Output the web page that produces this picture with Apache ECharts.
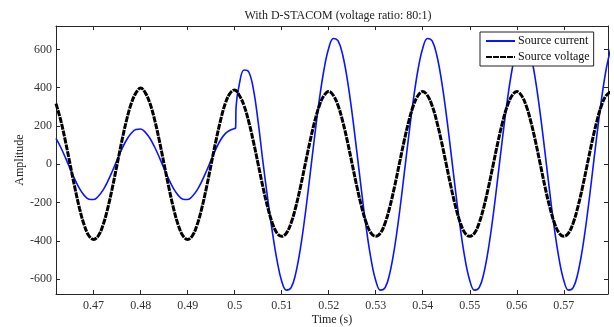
<!DOCTYPE html>
<html>
<head>
<meta charset="utf-8">
<script src="https://cdn.jsdelivr.net/npm/echarts@6/dist/echarts.min.js"></script>
<style>
html,body{margin:0;padding:0;background:#fff;}
#chart{width:614px;height:327px;}
</style>
</head>
<body>
<div id="chart"></div>
<script>
// ---- Data ----
const chartTitle = 'With D-STACOM (voltage ratio: 80:1)';
const xTicks = [0.47, 0.48, 0.49, 0.5, 0.51, 0.52, 0.53, 0.54, 0.55, 0.56, 0.57];
const yTicks = [-600, -400, -200, 0, 200, 400, 600];
const seriesNames = ['Source current', 'Source voltage'];

// sample times: 0.462 s to 0.580 s every 1 ms
const sampleStart = 0.462;
const sampleStep = 0.001;

// Source voltage (one value per sample time)
const voltageValues = [
  317, 230, 121, 0, -121, -230, -317, -373, -392, -373,
  -317, -230, -121, 0, 121, 230, 317, 373, 398, 373,
  317, 230, 121, 0, -121, -230, -317, -373, -392, -373,
  -317, -230, -121, 0, 121, 230, 317, 370, 388, 359,
  306, 222, 117, 0, -117, -222, -306, -359, -376, -359,
  -306, -222, -117, 0, 117, 222, 306, 359, 380, 359,
  306, 222, 117, 0, -117, -222, -306, -359, -376, -359,
  -306, -222, -117, 0, 117, 222, 306, 359, 380, 359,
  306, 222, 117, 0, -117, -222, -306, -359, -376, -359,
  -306, -222, -117, 0, 117, 222, 306, 359, 380, 359,
  306, 222, 117, 0, -117, -222, -306, -359, -376, -359,
  -306, -222, -117, 0, 117, 222, 306, 359, 378
];

// Source current (one value per sample time)
const currentValues = [
  135, 89, 35, -23, -79, -127, -162, -182, -184, -167,
  -135, -89, -35, 23, 79, 127, 162, 182, 184, 167,
  135, 89, 35, -23, -79, -127, -162, -182, -184, -167,
  -135, -89, -35, 23, 79, 127, 160, 178, 187, 420,
  492, 482, 390, 220, 15, -175, -350, -500, -610, -657,
  -644, -568, -436, -262, -62, 144, 336, 495, 606, 657,
  644, 568, 436, 262, 62, -144, -336, -495, -606, -657,
  -644, -568, -436, -262, -62, 144, 336, 495, 606, 657,
  644, 568, 436, 262, 62, -144, -336, -495, -606, -657,
  -644, -568, -436, -262, -62, 144, 336, 495, 606, 657,
  644, 568, 436, 262, 62, -144, -336, -495, -606, -657,
  -644, -568, -436, -262, -62, 144, 336, 495, 606
];

// extra current readings at the switching instant (time, value)
const currentStepTimes = [0.5002, 0.5003];
const currentStepValues = [190, 300];

// ---- Build series data ----
const sampleTimes = voltageValues.map((_, i) => +(sampleStart + i * sampleStep).toFixed(4));
const voltageData = sampleTimes.map((t, i) => [t, voltageValues[i]]);
const currentData = sampleTimes.map((t, i) => [t, currentValues[i]])
  .concat(currentStepTimes.map((t, i) => [t, currentStepValues[i]]))
  .sort((a, b) => a[0] - b[0]);

const FONT = "'Liberation Serif', 'Times New Roman', serif";
const AXIS_COLOR = '#262626';

const chart = echarts.init(document.getElementById('chart'), null, {renderer: 'canvas'});

const baseX = {
  type: 'value', min: 0.462, max: 0.5794,
  splitLine: {show: false},
  axisLine: {show: true, onZero: false, lineStyle: {color: AXIS_COLOR, width: 1}}
};
const baseY = {
  type: 'value', min: -677, max: 722,
  splitLine: {show: false},
  axisLine: {show: true, onZero: false, lineStyle: {color: AXIS_COLOR, width: 1}}
};

chart.setOption({
  animation: false,
  backgroundColor: '#fff',
  title: {
    text: chartTitle, left: 333, top: 5, textAlign: 'center',
    textStyle: {fontFamily: FONT, fontSize: 12, fontWeight: 'normal', color: '#222'}
  },
  grid: {left: 56, top: 26, width: 552, height: 268, containLabel: false, outerBoundsMode: 'none'},
  legend: {
    data: seriesNames,
    orient: 'vertical', left: 480, top: 32,
    backgroundColor: '#fff', borderColor: '#222', borderWidth: 1,
    padding: [3, 4, 3, 5], itemGap: 4, itemWidth: 29, itemHeight: 12,
    itemStyle: {opacity: 0},
    textStyle: {fontFamily: FONT, fontSize: 12, color: '#111', padding: [0, 0, 0, -2]}
  },
  xAxis: [
    Object.assign({}, baseX, {
      position: 'bottom',
      name: 'Time (s)', nameLocation: 'middle', nameGap: 20, nameMoveOverlap: false,
      nameTextStyle: {fontFamily: FONT, fontSize: 12, color: '#222'},
      axisTick: {show: true, inside: true, length: 4, customValues: xTicks, lineStyle: {color: AXIS_COLOR}},
      axisLabel: {show: true, customValues: xTicks, margin: 6, fontFamily: FONT, fontSize: 12, color: '#333',
        formatter: v => String(parseFloat((+v).toFixed(2)))}
    }),
    Object.assign({}, baseX, {
      position: 'top',
      axisTick: {show: true, inside: true, length: 4, customValues: xTicks, lineStyle: {color: AXIS_COLOR}},
      axisLabel: {show: false}
    })
  ],
  yAxis: [
    Object.assign({}, baseY, {
      position: 'left',
      name: 'Amplitude', nameLocation: 'middle', nameGap: 30, nameRotate: 90, nameMoveOverlap: false,
      nameTextStyle: {fontFamily: FONT, fontSize: 12, color: '#222'},
      axisTick: {show: true, inside: true, length: 4, customValues: yTicks, lineStyle: {color: AXIS_COLOR}},
      axisLabel: {show: true, customValues: yTicks, margin: 4, fontFamily: FONT, fontSize: 12, color: '#333'}
    }),
    Object.assign({}, baseY, {
      position: 'right',
      axisTick: {show: true, inside: true, length: 4, customValues: yTicks, lineStyle: {color: AXIS_COLOR}},
      axisLabel: {show: false}
    })
  ],
  series: [
    {
      name: seriesNames[0], type: 'line', data: currentData,
      xAxisIndex: 0, yAxisIndex: 0,
      symbol: 'none', smooth: 0.4, clip: true,
      lineStyle: {color: '#0a14ff', width: 1.6},
      itemStyle: {color: '#0a14ff'}
    },
    {
      name: seriesNames[1], type: 'line', data: voltageData,
      xAxisIndex: 0, yAxisIndex: 0,
      symbol: 'none', smooth: 0.4, clip: true,
      lineStyle: {color: '#000', width: 3, type: [6, 1]},
      itemStyle: {color: '#000'}
    }
  ]
});
</script>
</body>
</html>
